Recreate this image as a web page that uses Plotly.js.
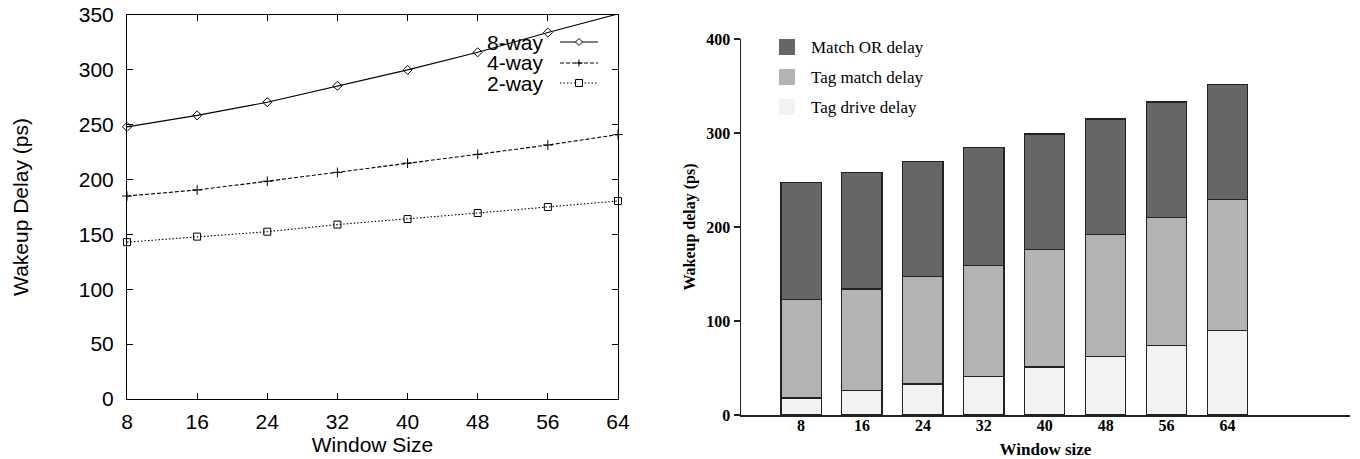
<!DOCTYPE html>
<html>
<head>
<meta charset="utf-8">
<script src="https://cdn.plot.ly/plotly-3.0.1.min.js"></script>
<style>html,body{margin:0;padding:0;background:#fff;}#chart{width:1360px;height:459px;}</style>
</head>
<body>
<div id="chart"></div>
<script>
// ---- Data ----
const windowSizes = [8, 16, 24, 32, 40, 48, 56, 64];
const way8 = [248, 258.5, 270.5, 285.5, 300, 316, 334, 351];
const way4 = [185, 190.5, 198.5, 206.5, 215, 223, 231.5, 241];
const way2 = [143, 148, 152.5, 159, 164, 169.5, 175, 180.5];
const lineNames = ['8-way', '4-way', '2-way'];

const barCategories = ['8', '16', '24', '32', '40', '48', '56', '64'];
const tagDrive = [18, 26, 33, 41, 51, 62, 74, 90];
const tagMatch = [105, 108, 114, 118, 125, 130, 136, 139];
const matchOR = [124, 124, 123, 126, 123, 123, 123, 123];
const barNames = ['Tag drive delay', 'Tag match delay', 'Match OR delay'];
const barColors = ['#f2f2f2', '#b3b3b3', '#666666'];

// ---- helpers (pixel -> paper) ----
const W = 1360, H = 459;
const px = x => x / W;
const py = y => 1 - y / H;

const lineStyles = [
  {dash: 'solid', symbol: 'diamond-open'},
  {dash: '4px,2px', symbol: 'cross-thin-open'},
  {dash: '1.5px,2px', symbol: 'square-open'}
];
const lineData = [way8, way4, way2];

const traces = [];
lineData.forEach((ys, i) => {
  traces.push({
    type: 'scatter', mode: 'lines+markers', name: lineNames[i],
    x: windowSizes, y: ys, xaxis: 'x', yaxis: 'y', showlegend: false,
    line: {color: '#000', width: 1.1, dash: lineStyles[i].dash},
    marker: {symbol: lineStyles[i].symbol, size: 7, color: '#000', line: {color: '#000', width: 1}},
    cliponaxis: false
  });
});
[tagDrive, tagMatch, matchOR].forEach((vals, i) => {
  traces.push({
    type: 'bar', name: barNames[i], x: barCategories, y: vals,
    xaxis: 'x2', yaxis: 'y2', showlegend: false,
    marker: {color: barColors[i], line: {color: '#222', width: 1.2}}
  });
});

// ---- custom legends ----
const shapes = [];
const annotations = [];
// left legend (gnuplot style: text then sample)
const legRows = [42, 63, 83];
lineNames.forEach((n, i) => {
  const y = legRows[i];
  annotations.push({xref: 'paper', yref: 'paper', x: px(546), y: py(y), text: n, showarrow: false,
    xanchor: 'right', yanchor: 'middle', font: {family: 'Liberation Sans, Arial, sans-serif', size: 21, color: '#000'}});
  shapes.push({type: 'line', xref: 'paper', yref: 'paper', x0: px(560), x1: px(598), y0: py(y), y1: py(y),
    line: {color: '#000', width: 1.1, dash: lineStyles[i].dash}});
  const cx = 579, s = 3.5;
  let path;
  if (i === 0) {
    path = `M${px(cx)},${py(y - s)} L${px(cx + s)},${py(y)} L${px(cx)},${py(y + s)} L${px(cx - s)},${py(y)} Z`;
    shapes.push({type: 'path', xref: 'paper', yref: 'paper', path: path, fillcolor: '#fff', line: {color: '#000', width: 1}});
  } else if (i === 1) {
    path = `M${px(cx - s)},${py(y)} L${px(cx + s)},${py(y)} M${px(cx)},${py(y - s)} L${px(cx)},${py(y + s)}`;
    shapes.push({type: 'path', xref: 'paper', yref: 'paper', path: path, line: {color: '#000', width: 1}});
  } else {
    shapes.push({type: 'rect', xref: 'paper', yref: 'paper', x0: px(cx - s), x1: px(cx + s), y0: py(y - s), y1: py(y + s),
      fillcolor: '#fff', line: {color: '#000', width: 1}});
  }
});
// right legend (reverse order: Match OR on top)
const barLegRows = [47, 77, 107];
[2, 1, 0].forEach((k, r) => {
  const y = barLegRows[r];
  shapes.push({type: 'rect', xref: 'paper', yref: 'paper', x0: px(779), x1: px(795), y0: py(y - 8), y1: py(y + 8),
    fillcolor: barColors[k], line: {width: 0}});
  annotations.push({xref: 'paper', yref: 'paper', x: px(809), y: py(y), text: barNames[k], showarrow: false,
    xanchor: 'left', yanchor: 'middle', font: {family: 'Liberation Serif, Times New Roman, serif', size: 17, color: '#000'}});
});

const sans = {family: 'Liberation Sans, Arial, sans-serif', size: 21, color: '#000'};
const serifB = {family: 'Liberation Serif, Times New Roman, serif', size: 16, color: '#000', weight: 'bold'};

const layout = {
  width: W, height: H,
  margin: {l: 0, r: 0, t: 0, b: 0},
  paper_bgcolor: '#fff', plot_bgcolor: '#fff',
  showlegend: false,
  barmode: 'stack', bargap: 0.34,
  xaxis: {
    domain: [px(127), px(618)], anchor: 'y', range: [8, 64],
    tickvals: windowSizes, ticktext: windowSizes.map(String),
    ticks: 'inside', ticklen: 6, tickcolor: '#000', mirror: 'ticks',
    showline: true, linecolor: '#000', linewidth: 1, showgrid: false, zeroline: false,
    tickfont: sans, ticklabelstandoff: 4,
    title: {text: 'Window Size', font: sans, standoff: 0}
  },
  yaxis: {
    domain: [py(399), py(15)], anchor: 'x', range: [0, 350], dtick: 50,
    ticks: 'inside', ticklen: 6, tickcolor: '#000', mirror: 'ticks',
    showline: true, linecolor: '#000', linewidth: 1, showgrid: false, zeroline: false,
    tickfont: sans, ticklabelstandoff: 8,
    title: {text: 'Wakeup Delay (ps)', font: sans, standoff: 44}
  },
  xaxis2: {
    domain: [px(741), px(1350)], anchor: 'y2', type: 'category', range: [-0.985, 9.01],
    ticks: '', showline: true, linecolor: '#222', linewidth: 1.5, showgrid: false, zeroline: false,
    tickfont: serifB, ticklabelstandoff: -5,
    title: {text: 'Window size', font: Object.assign({}, serifB, {size: 17}), standoff: 10}
  },
  yaxis2: {
    domain: [py(415), py(39)], anchor: 'x2', range: [0, 400], dtick: 100,
    ticks: 'outside', ticklen: 6, tickcolor: '#222', tickwidth: 1.2,
    showline: true, linecolor: '#222', linewidth: 1.5, showgrid: false, zeroline: false,
    tickfont: serifB, ticklabelstandoff: 0,
    title: {text: 'Wakeup delay (ps)', font: serifB, standoff: 6}
  },
  shapes: shapes,
  annotations: annotations
};

Plotly.newPlot('chart', traces, layout, {staticPlot: true, displayModeBar: false});
</script>
</body>
</html>
